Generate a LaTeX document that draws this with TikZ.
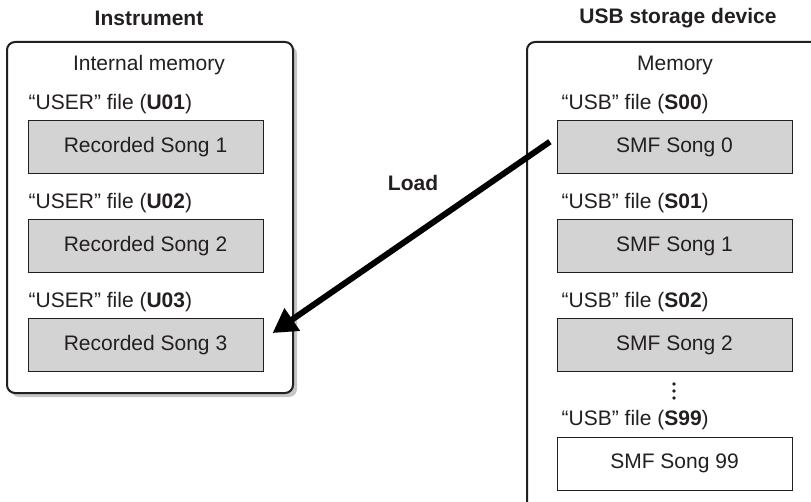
\documentclass[tikz,border=0pt]{standalone}
\usepackage{fontspec}
\setmainfont{Liberation Sans}
\usetikzlibrary{arrows.meta,positioning,shadows}
\definecolor{songgray}{RGB}{211,211,211}
\definecolor{inkgray}{RGB}{35,31,32}

\begin{document}
\begin{tikzpicture}[
    x=1pt, y=-1pt,
    font=\fontsize{21}{25}\selectfont, text=inkgray,
    panel/.style={draw=inkgray, line width=2pt, rounded corners=8pt, fill=white, inner sep=0pt},
    song/.style={draw=inkgray, line width=1pt, fill=songgray, minimum width=235pt,
                 minimum height=53pt, inner sep=0pt},
    lastsong/.style={song, fill=white},
    filelbl/.style={inner sep=0pt},
    head/.style={font=\fontsize{21}{25}\selectfont\bfseries},
    arr/.style={-{Triangle[length=24pt,width=26pt]}, line width=6pt, draw=black}
]
  \clip (0,0) rectangle (811,502);

  \node[panel, minimum width=286pt, minimum height=351pt,
        drop shadow={shadow xshift=4pt, shadow yshift=-4pt, fill=gray!45, opacity=1}] (instr) at (150,217.5) {};
  \node[panel, minimum width=313pt, minimum height=490pt] (usb) at (683.5,287) {};

  \node[head] (instrhd) at (149,18) {Instrument};
  \node[head] (usbhd) at (678,18) {USB storage device};
  \node (intmem) at (149,65) {Internal memory};
  \node (mem) at (675,65) {Memory};

  \node[song] (rec1) at (145.5,147.5) {Recorded Song 1};
  \node[song, below=45pt of rec1] (rec2) {Recorded Song 2};
  \node[song, below=45pt of rec2] (rec3) {Recorded Song 3};
  \node[filelbl, above right=6pt and 1pt of rec1.north west] (u01) {``USER'' file (\textbf{U01})};
  \node[filelbl, above right=6pt and 1pt of rec2.north west] (u02) {``USER'' file (\textbf{U02})};
  \node[filelbl, above right=6pt and 1pt of rec3.north west] (u03) {``USER'' file (\textbf{U03})};

  \node[song] (smf0) at (674.5,147.5) {SMF Song 0};
  \node[song, below=45pt of smf0] (smf1) {SMF Song 1};
  \node[song, below=45pt of smf1] (smf2) {SMF Song 2};
  \node[lastsong, below=64pt of smf2] (smf99) {SMF Song 99};
  \node[filelbl, above right=6pt and 5pt of smf0.north west] (s00) {``USB'' file (\textbf{S00})};
  \node[filelbl, above right=6pt and 5pt of smf1.north west] (s01) {``USB'' file (\textbf{S01})};
  \node[filelbl, above right=6pt and 5pt of smf2.north west] (s02) {``USB'' file (\textbf{S02})};
  \node[filelbl, above right=6pt and 5pt of smf99.north west] (s99) {``USB'' file (\textbf{S99})};
  \foreach \d in {384,391,398}
    \fill[inkgray] (674,\d) circle (1.8pt);

  \node[head] (load) at (413,183) {Load};
  \draw[arr, shorten <=8pt, shorten >=11pt] (smf0.175) -- (rec3.3);
\end{tikzpicture}
\end{document}
